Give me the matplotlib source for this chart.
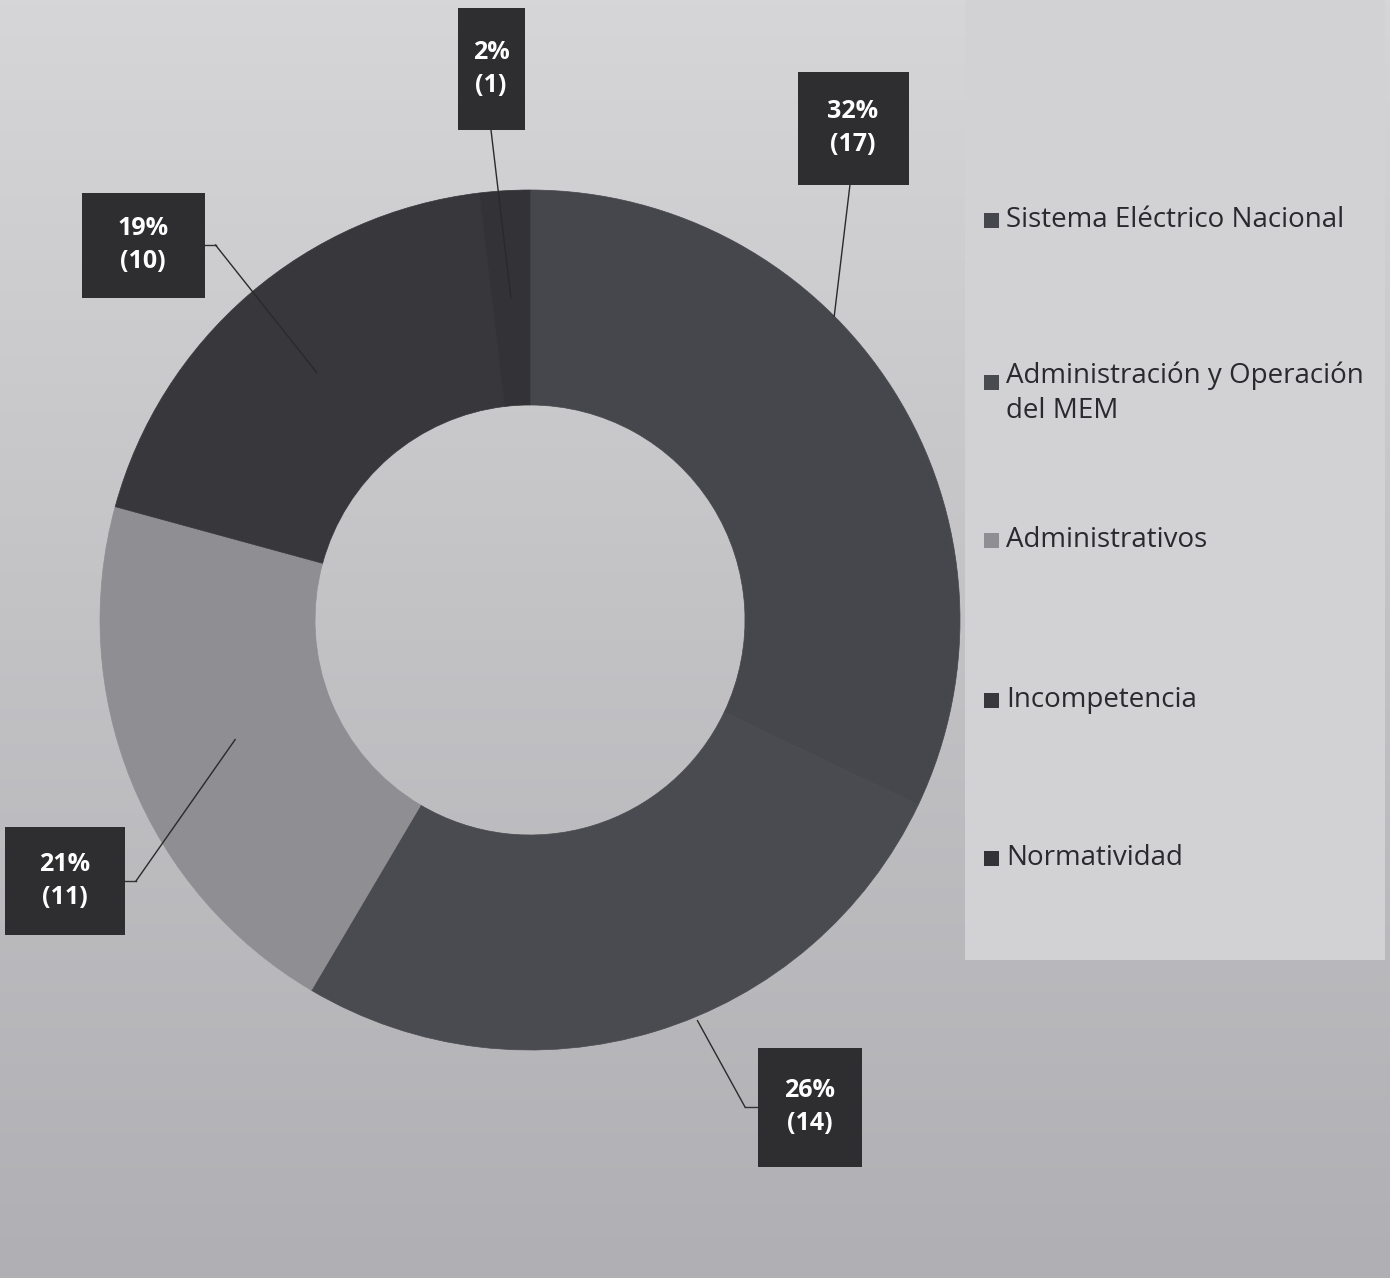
import numpy as np
import matplotlib.pyplot as plt
from matplotlib.colors import LinearSegmentedColormap
from matplotlib.patches import Rectangle

plt.rcParams['font.family'] = ['Open Sans', 'DejaVu Sans']

# datos del gráfico
categorias = ['Sistema Eléctrico Nacional', 'Administración y Operación\ndel MEM',
              'Administrativos', 'Incompetencia', 'Normatividad']
valores = [17, 14, 11, 10, 1]
porcentajes = [32, 26, 21, 19, 2]
colores = ['#46464d', '#4a4a51', '#8e8e93', '#38383c', '#333337']

# cajas de etiquetas: centro y tamaño (pixeles, origen arriba-izquierda)
cajas = [(853, 128), (810, 1107), (65, 881), (143, 245), (491, 69)]
tam_cajas = [(111, 113), (104, 119), (120, 108), (123, 105), (67, 122)]
# dónde termina la línea guía: fracción del ángulo de la porción y del radio
frac_ang = [0.39, 0.44, 0.5, 0.5, 0.5]
r_ancla = [1.0, 1.01, 0.74, 0.76, 0.75]

W, H = 1390, 1278
fig = plt.figure(figsize=(W / 100, H / 100), dpi=100)
ax = fig.add_axes([0, 0, 1, 1])

# fondo gris con degradado
grad = np.linspace(0, 1, 256).reshape(-1, 1)
cmap_bg = LinearSegmentedColormap.from_list('bg', ['#b0b0b4', '#c2c2c5', '#d6d6d8'])
ax.imshow(grad, extent=[0, W, 0, H], cmap=cmap_bg, aspect='auto', origin='lower', zorder=0)
ax.add_patch(Rectangle((965, H - 960), W - 970, 960, color='#d2d2d4', zorder=0.5, lw=0))

cx, cy, R = 530, H - 620, 430
wedges, _ = ax.pie(valores, colors=colores, startangle=90, counterclock=False,
                   radius=R, center=(cx, cy), frame=True,
                   wedgeprops=dict(width=R * 0.5, linewidth=0.5))
for w, col in zip(wedges, colores):
    w.set_edgecolor(col)
ax.set_xlim(0, W)
ax.set_ylim(0, H)
ax.axis('off')

# etiquetas con líneas guía (sentido horario: theta2 es el inicio)
for w, p, v, (bx, by), (bw, bh), fa, ra in zip(wedges, porcentajes, valores, cajas,
                                               tam_cajas, frac_ang, r_ancla):
    ang = np.deg2rad(w.theta2 - fa * (w.theta2 - w.theta1))
    axx, ayy = cx + R * ra * np.cos(ang), cy + R * ra * np.sin(ang)
    byy = H - by
    if by < 300 and bw < 115:
        # línea sale del borde inferior de la caja
        ex, ey = bx - 3 if bx > cx else bx, byy - bh / 2
    elif bx < cx:
        ex, ey = bx + bw / 2 + 11, byy
        ax.plot([bx + bw / 2, ex], [byy, byy], color='#333333', lw=1, zorder=3)
    else:
        ex, ey = bx - bw / 2 - 13, byy
        ax.plot([bx - bw / 2, ex], [byy, byy], color='#333333', lw=1, zorder=3)
    ax.plot([ex, axx], [ey, ayy], color='#2a2a2a', lw=1, zorder=3)
    ax.add_patch(Rectangle((bx - bw / 2, byy - bh / 2), bw, bh, color='#2e2e30', zorder=4, lw=0))
    ax.text(bx, byy, f'{p}%\n({v})', ha='center', va='center', color='white',
            fontsize=18, fontweight='bold', linespacing=1.4, zorder=5)

# leyenda
ley_y = [220, 382, 540, 700, 858]
for cat, col, yy in zip(categorias, colores, ley_y):
    ax.add_patch(Rectangle((984, H - yy - 8), 15, 15, color=col, zorder=4, lw=0))
    if '\n' in cat:
        ax.text(1006, H - yy + 20, cat, ha='left', va='top', fontsize=20,
                color='#2a2a2e', zorder=5, linespacing=1.3)
    else:
        ax.text(1006, H - yy, cat, ha='left', va='center', fontsize=20,
                color='#2a2a2e', zorder=5)

fig.savefig('out.png', dpi=100)
